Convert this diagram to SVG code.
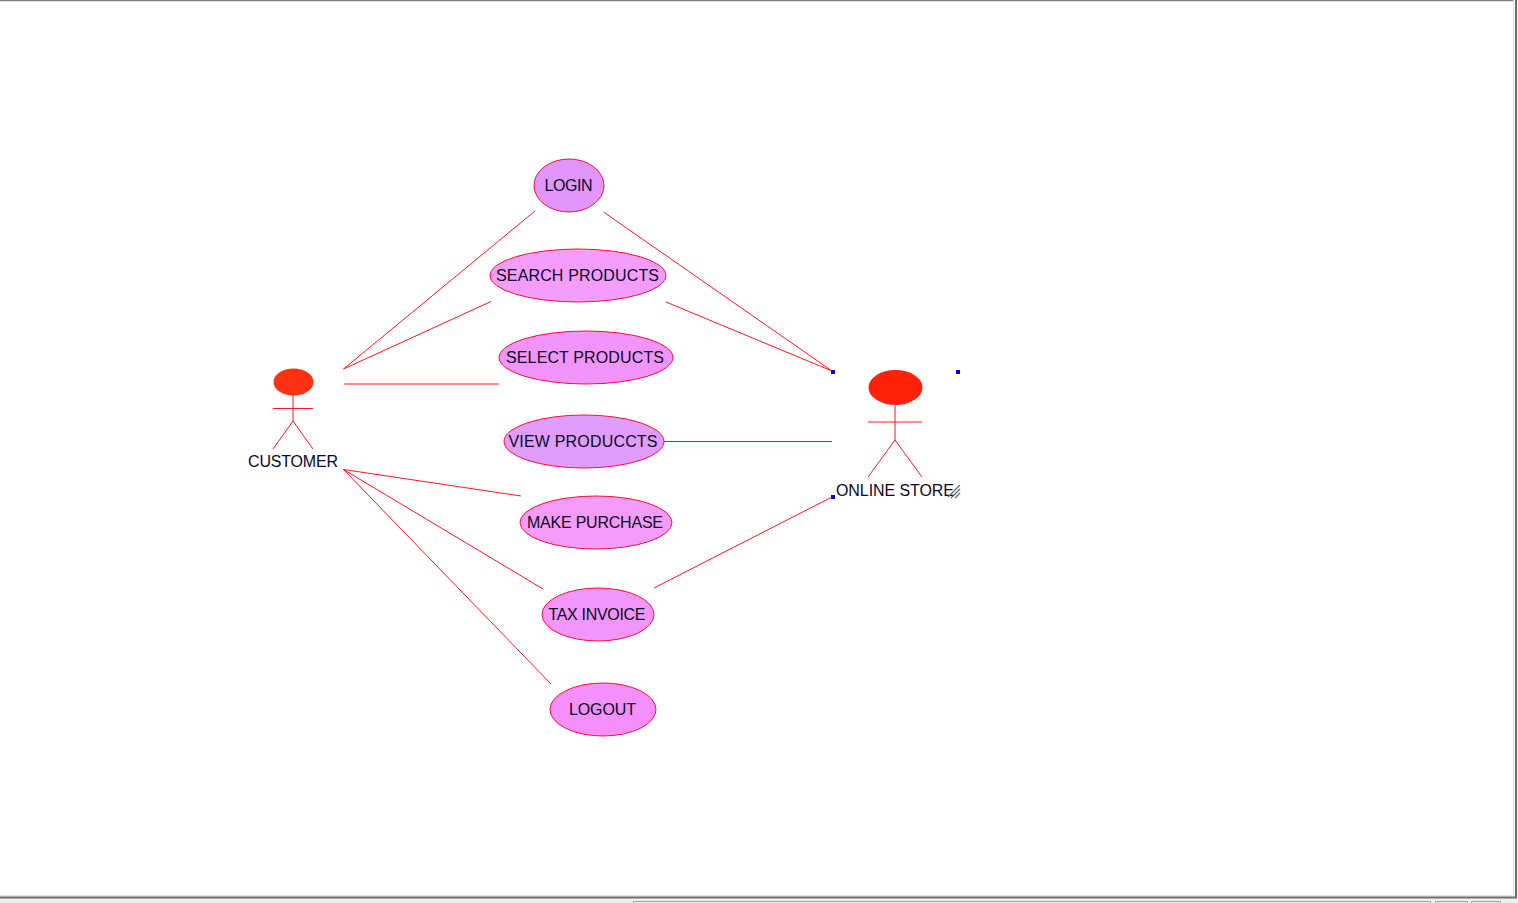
<svg xmlns="http://www.w3.org/2000/svg" width="1518" height="903" viewBox="0 0 1518 903">
<style>
.uc{stroke:#ff1030;stroke-width:1}
.l{stroke:#ff1a1a;stroke-width:1;fill:none}
text{font-family:"Liberation Sans",Arial,sans-serif;font-size:16px;fill:#0a0a28;text-anchor:middle}
</style>
<rect width="1518" height="903" fill="#fff"/>
<g id="window-frame">
<rect x="0" y="896" width="1518" height="7" fill="#f0f0f0"/>
<rect x="1516" y="0" width="2" height="903" fill="#f0f0f0"/>
<path d="M0 .5H1513" stroke="#808080" stroke-width="1.500" fill="none"/>
<path d="M0 897.500H1516V0" stroke="#6e6e6e" stroke-width="2" fill="none"/>
<path d="M0 895.500H1513.500V0" stroke="#e2e2e2" stroke-width="1" fill="none"/>
<path d="M633.500 903V901.500H1430.500V903M1435.500 903V901.500H1467.500V903M1471.500 903V901.500H1500.500V903" stroke="#a0a0a0" fill="none"/>
</g>
<g id="connectors" class="l">
<path d="M343.500 369 535 211"/>
<path d="M343.500 369 491 301.500"/>
<path d="M344 384H499"/>
<path d="M343.500 469.500 521 496"/>
<path d="M343.500 469.500 543 589"/>
<path d="M343.500 469.500 551 684"/>
<path d="M603.500 212 832 371"/>
<path d="M666 302 832 371"/>
<path d="M664 441.500H832" stroke="#e01030"/>
<path d="M654 588 832 497"/>
</g>
<g id="customer">
<ellipse cx="293.500" cy="382" rx="20" ry="13.500" fill="#ff3314"/>
<path class="l" d="M293 395V421M273 408.500H313M293 421 273 449M293 421 313 449"/>
<text x="293" y="467" textLength="90">CUSTOMER</text>
</g>
<g id="online-store">
<ellipse cx="895.500" cy="387.500" rx="27" ry="17.500" fill="#ff220a"/>
<path class="l" d="M895 405V440M868 422H922M895 440 868 477M895 440 922 477"/>
<text x="895" y="496" textLength="118">ONLINE STORE</text>
</g>
<g id="selection-handles">
<rect x="831" y="370" width="4" height="4" fill="#0000e6"/>
<rect x="956" y="370" width="4" height="4" fill="#0000e6"/>
<rect x="831" y="495" width="4" height="4" fill="#0000e6"/>
<path d="M948 497 960 485M951 498 960 489M955 498 960 493" stroke="#666" stroke-width="1.200" fill="none"/>
</g>
<g id="login"><ellipse class="uc" cx="569" cy="185.500" rx="35" ry="26.500" fill="#e196fc"/><text x="568.500" y="191" textLength="48">LOGIN</text></g>
<g id="search-products"><ellipse class="uc" cx="578" cy="275.500" rx="88" ry="26.500" fill="#f59dfc"/><text x="577.500" y="281" textLength="163">SEARCH PRODUCTS</text></g>
<g id="select-products"><ellipse class="uc" cx="586" cy="357.500" rx="87" ry="26.500" fill="#f194fb"/><text x="585" y="363" textLength="158">SELECT PRODUCTS</text></g>
<g id="view-products"><ellipse class="uc" cx="584" cy="441.500" rx="80" ry="26.500" fill="#e19dfb"/><text x="583" y="447" textLength="149">VIEW PRODUCCTS</text></g>
<g id="make-purchase"><ellipse class="uc" cx="596" cy="522.500" rx="76" ry="26.500" fill="#f59cfb"/><text x="595" y="528" textLength="136">MAKE PURCHASE</text></g>
<g id="tax-invoice"><ellipse class="uc" cx="598" cy="614.500" rx="56" ry="26.500" fill="#f396fb"/><text x="597" y="620" textLength="97">TAX INVOICE</text></g>
<g id="logout"><ellipse class="uc" cx="603" cy="709.500" rx="53" ry="26.500" fill="#f48ffb"/><text x="602.500" y="715" textLength="67">LOGOUT</text></g>
</svg>
